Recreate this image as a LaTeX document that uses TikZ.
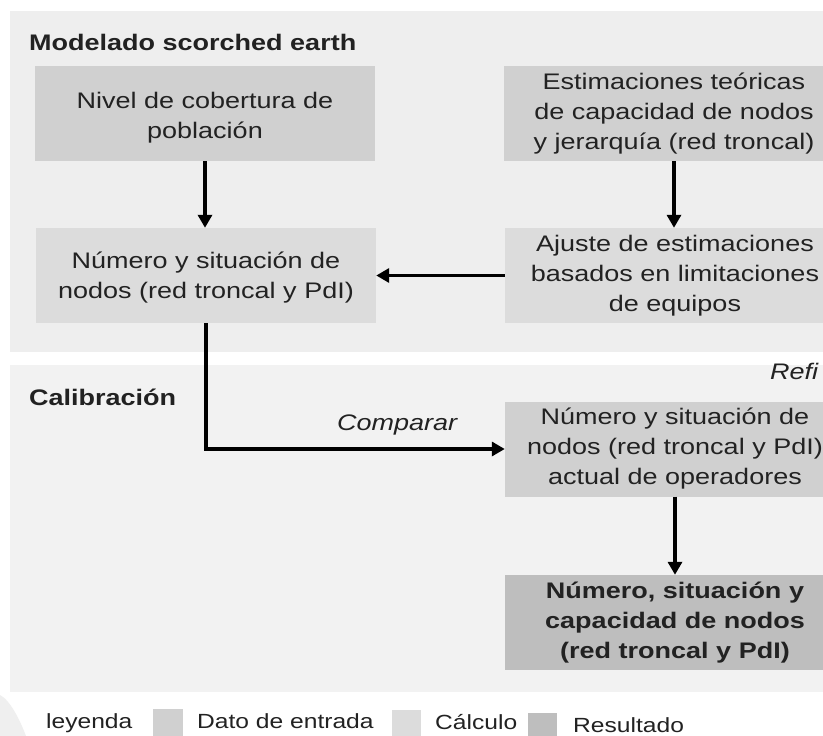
\documentclass[tikz,border=0pt]{standalone}
\usepackage{fontspec}
\setmainfont[FakeStretch=1.2]{Liberation Sans}
\usetikzlibrary{arrows.meta}
\definecolor{panelA}{HTML}{EEEEEE}
\definecolor{panelB}{HTML}{F2F2F2}
\definecolor{inbox}{HTML}{D0D0D0}
\definecolor{calcbox}{HTML}{DCDCDC}
\definecolor{resbox}{HTML}{BEBEBE}
\definecolor{txt}{HTML}{222222}
\definecolor{wedge}{HTML}{EFEFEF}
\newcommand\mainfs{\fontsize{22.5}{30}\selectfont}
\newcommand\legfs{\fontsize{20.5}{24}\selectfont}
\begin{document}
\begin{tikzpicture}[x=1pt,y=-1pt,
  box/.style={minimum width=340pt,minimum height=95pt,inner sep=0pt,align=center,font=\mainfs,text=txt},
  inputbox/.style={box,fill=inbox},
  calcstyle/.style={box,fill=calcbox},
  resstyle/.style={box,fill=resbox,font=\mainfs\bfseries},
  arr/.style={line width=3.5pt,-{Triangle[width=14pt,length=13pt]}},
  label/.style={inner sep=0pt,anchor=base west,font=\mainfs,text=txt},
  legtext/.style={inner sep=0pt,anchor=base west,font=\legfs,text=txt},
  swatch/.style={inner sep=0pt}]
\useasboundingbox (0,0) rectangle (823,736);
\clip (0,0) rectangle (823,736);
\fill[white] (0,0) rectangle (823,736);
% panels
\fill[panelA] (10,11) rectangle (830,352);
\fill[panelB] (10,365) rectangle (830,692);
\fill[wedge] (0,695) .. controls (10,700) and (20,720) .. (26,736) -- (0,736) -- cycle;
% titles
\node[label,font=\mainfs\bfseries] (t1) at (29,50) {Modelado scorched earth};
\node[label,font=\mainfs\bfseries] (t2) at (29,405) {Calibración};
\node[label,font=\mainfs\itshape] (cmp) at (337,430) {Comparar};
\node[label,font=\mainfs\itshape] (ref) at (770,379) {Refi};
% boxes
\node[inputbox] (b1) at (205,113.5) {\rule{0pt}{24pt}Nivel de cobertura de\\población};
\node[inputbox] (b2) at (674,113.5) {Estimaciones teóricas\\de capacidad de nodos\\y jerarquía (red troncal)};
\node[calcstyle] (b3) at (206,275.5) {\rule{0pt}{21pt}Número y situación de\\nodos (red troncal y PdI)};
\node[calcstyle] (b4) at (675,275.5) {Ajuste de estimaciones\\basados en limitaciones\\de equipos};
\node[inputbox] (b5) at (675,449) {Número y situación de\\nodos (red troncal y PdI)\\actual de operadores};
\node[resstyle] (b6) at (675,622.5) {Número, situación y\\capacidad de nodos\\(red troncal y PdI)};
% arrows
\draw[arr] (b1.south) -- (b1.south |- b3.north);
\draw[arr] (b2.south) -- (b2.south |- b4.north);
\draw[arr] (b4.west) -- (b3.east);
\draw[arr] (b3.south) |- (b5.west);
\draw[arr] (b5.south) -- (b6.north);
% legend
\node[legtext] (l0) at (46,728) {leyenda};
\node[swatch,fill=inbox,minimum width=30pt,minimum height=27pt,anchor=north west] (s1) at (153,709) {};
\node[legtext] (l1) at (197,728) {Dato de entrada};
\node[swatch,fill=calcbox,minimum width=29pt,minimum height=26pt,anchor=north west] (s2) at (392,710) {};
\node[legtext] (l2) at (435,729) {Cálculo};
\node[swatch,fill=resbox,minimum width=29pt,minimum height=23pt,anchor=north west] (s3) at (528,713) {};
\node[legtext] (l3) at (573,732) {Resultado};
\end{tikzpicture}
\end{document}
